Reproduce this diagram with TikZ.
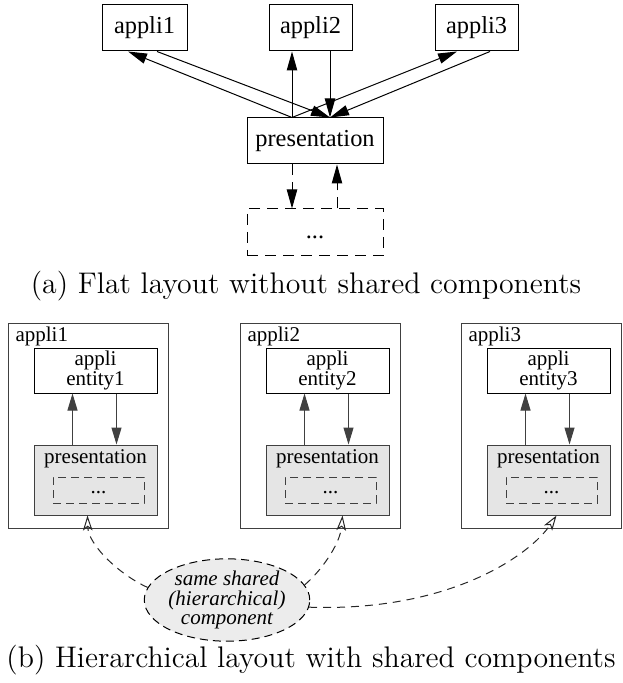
\documentclass[tikz,border=0pt]{standalone}
\usepackage{fontspec}
\newfontfamily\tms{Liberation Serif}
\usetikzlibrary{arrows.meta,calc,shapes.geometric}

\begin{document}
\begin{tikzpicture}[x=0.5pt,y=-0.5pt,
  line width=0.5pt,
  >={Triangle[length=9.5pt,width=5.2pt]},
  smallhead/.style={-{Triangle[length=8.5pt,width=5pt]}},
  openhead/.style={-{Stealth[open,length=7.5pt,width=4.8pt,inset=1.8pt]}},
  topbox/.style={draw,inner sep=0pt,minimum height=23pt,font=\tms\fontsize{12.2}{14}\selectfont},
  groupbox/.style={draw=black!75,inner sep=0pt},
  smalltext/.style={inner sep=0pt,font=\tms\fontsize{10.5}{9.6}\selectfont},
  dashbox/.style={draw,dash pattern=on 5.5pt off 3.5pt,inner sep=0pt},
  innerdash/.style={draw=black!75,dash pattern=on 4pt off 2.5pt,inner sep=0pt},
  curvedash/.style={black!85,dash pattern=on 4pt off 3pt},
  caption/.style={inner sep=0pt,anchor=base,font=\fontsize{14.9}{17}\selectfont}]
\useasboundingbox (0,0) rectangle (622,683);

% ---------- flat layout ----------
\node[topbox,minimum width=42.5pt] (a1) at (144.5,28) {appli1};
\node[topbox,minimum width=41.5pt] (a2) at (310.5,28) {appli2};
\node[topbox,minimum width=41.5pt] (a3) at (476.5,28) {appli3};
\node[topbox,minimum width=68pt] (pres) at (315,141) {presentation};
\node[dashbox,minimum width=68pt,minimum height=23.5pt] (dots) at (315,232.5) {};
\node[smalltext,anchor=base,font=\tms\fontsize{12.2}{14}\selectfont] (dotslabel) at (315,239) {...};

\draw[->] ($(pres.north)+(-23,0)$) -- ($(a1.south)+(-16.5,0)$);
\draw[->] ($(a1.south)+(12.5,0)$) -- ($(pres.north)+(15,0)$);
\draw[->] ($(pres.north)+(-23,0)$) -- ($(a2.south)+(-18.5,0)$);
\draw[->] ($(a2.south)+(19.5,0)$) -- ($(pres.north)+(15,0)$);
\draw[->] ($(pres.north)+(-23,0)$) -- ($(a3.south)+(-19.5,0)$);
\draw[->] ($(a3.south)+(13.5,0)$) -- ($(pres.north)+(15,0)$);
\draw[->,dash pattern=on 5.5pt off 3.5pt] ($(pres.south)+(-23,0)$) -- ($(dots.north)+(-23,0)$);
\draw[->,dash pattern=on 5.5pt off 3.5pt] ($(dots.north)+(22,0)$) -- ($(pres.south)+(22,0)$);

\node[caption] (capa) at (306,293) {(a) Flat layout without shared components};

% ---------- hierarchical layout ----------
\foreach \n/\L in {1/8,2/240,3/461}{
  \node[groupbox,minimum width=80pt,minimum height=102.5pt] (o\n) at (\L+80,425.5) {};
  \node[smalltext,anchor=base west] (t\n) at (\L+7,342) {appli\n};
  \node[groupbox,draw=black,minimum width=61.5pt,minimum height=22.5pt,smalltext,align=center]
    (e\n) at (\L+87.5,370.5) {appli\\entity\n};
  \node[groupbox,fill=gray!20,minimum width=61.5pt,minimum height=35pt] (p\n) at (\L+87.5,480) {};
  \node[smalltext,anchor=base] (pl\n) at (\L+87.5,463) {presentation};
  \node[innerdash,minimum width=45.5pt,minimum height=13pt] (i\n) at (\L+90.5,490) {};
  \node[smalltext,anchor=base] (il\n) at (\L+90.5,493) {...};
  \draw[smallhead,black!75] ($(p\n.north west)+(39,0)$) -- ($(e\n.south west)+(39,0)$);
  \draw[smallhead,black!75] ($(e\n.south west)+(83,0)$) -- ($(p\n.north west)+(83,0)$);
}

\node[ellipse,draw,dash pattern=on 4pt off 2.5pt,fill=gray!15,inner sep=0pt,
      minimum width=77pt,minimum height=37pt,smalltext,align=center,font=\tms\itshape\fontsize{10.5}{9.8}\selectfont]
  (shared) at (227,600) {same shared\\(hierarchical)\\component};

\draw[curvedash,openhead] (shared.171) .. controls (120,575) and (88,545) .. ($(p1.south west)+(54,0)$);
\draw[curvedash,openhead] (shared.11) .. controls (320,572) and (340,545) .. ($(p2.south west)+(77,0)$);
\draw[curvedash,openhead] (shared.-5) .. controls (450,612) and (530,555) .. ($(p3.south west)+(70,0)$);

\node[caption] (capb) at (311,667) {(b) Hierarchical layout with shared components};
\end{tikzpicture}
\end{document}
